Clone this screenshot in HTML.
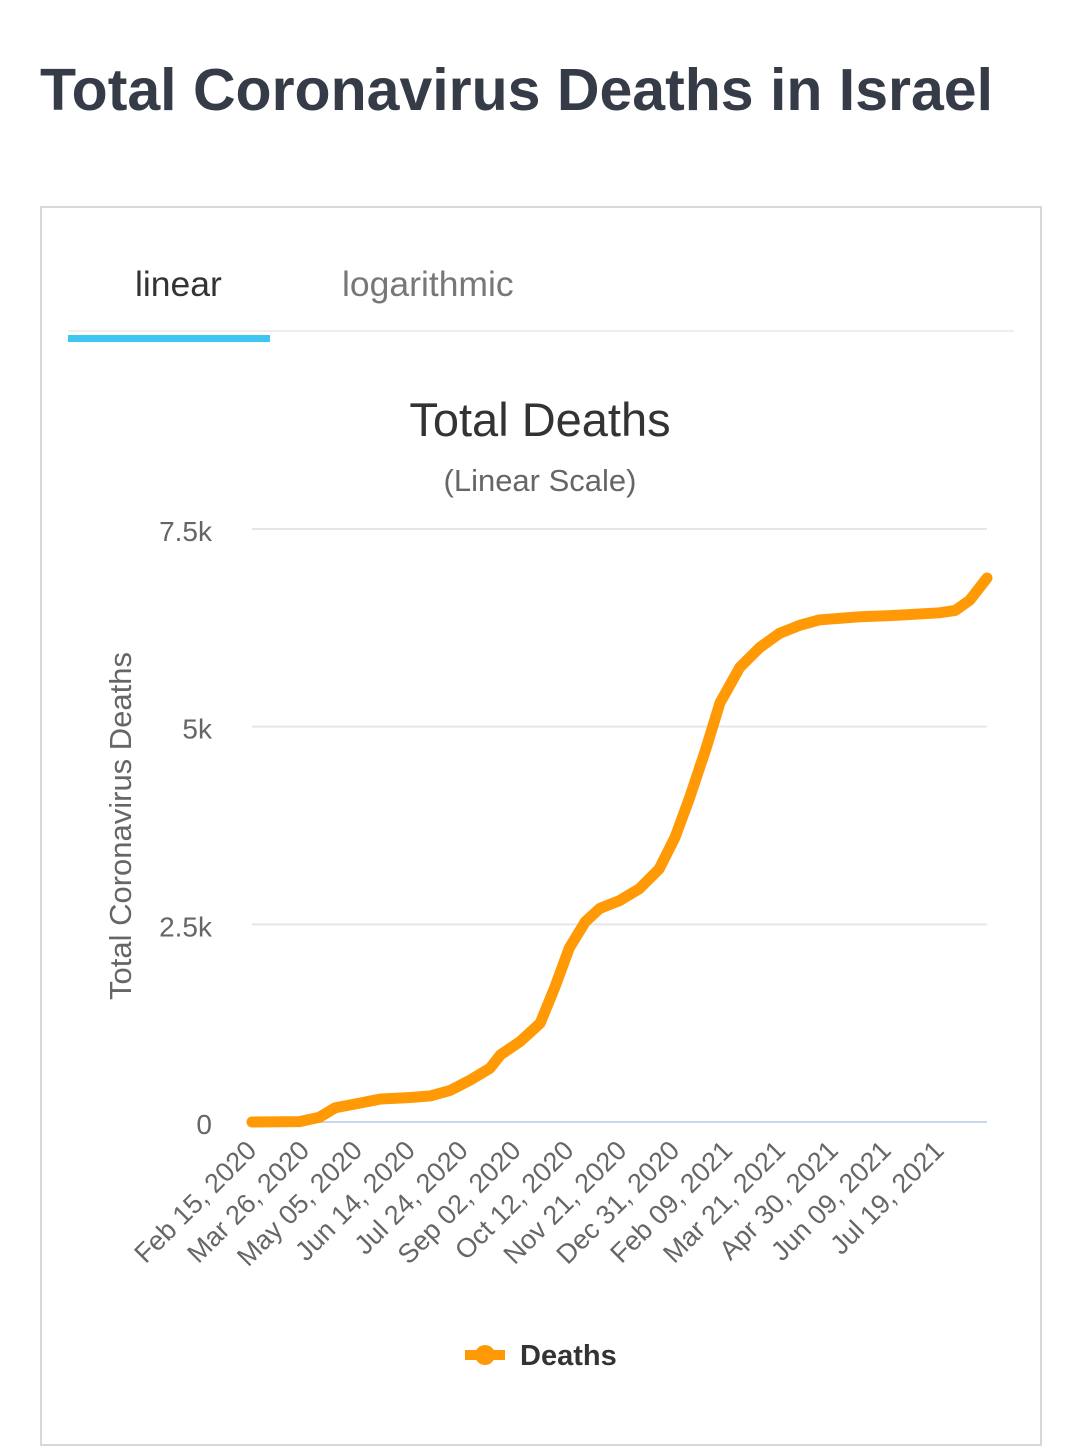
<!DOCTYPE html>
<html><head><meta charset="utf-8"><style>
body{margin:0;width:1080px;height:1429px;background:#fff;font-family:"Liberation Sans",sans-serif;overflow:hidden;position:relative}
#title{position:absolute;left:40px;top:56px;font-size:59px;font-weight:bold;color:#363b48;margin:0;white-space:nowrap}
#card{position:absolute;left:40px;top:206px;width:1002px;height:1240px;border:2px solid #d8d8d8;box-sizing:border-box}
.tab{position:absolute;top:264px;font-size:35.5px}
</style></head><body>
<h1 id="title">Total Coronavirus Deaths in Israel</h1>
<div id="card"></div>
<div class="tab" style="left:135px;color:#333">linear</div>
<div class="tab" style="left:342px;color:#777">logarithmic</div>
<div style="position:absolute;left:68px;top:330px;width:946px;height:2px;background:#eee"></div>
<div style="position:absolute;left:68px;top:335px;width:202px;height:7px;background:#3ec6f3"></div>
<svg id="chart" width="1080" height="1429" style="position:absolute;left:0;top:0"></svg>
<script>
const tickValues=[0,2500,5000,7500];
const tickLabels=["0","2.5k","5k","7.5k"];
const xLabels=["Feb 15, 2020","Mar 26, 2020","May 05, 2020","Jun 14, 2020","Jul 24, 2020","Sep 02, 2020","Oct 12, 2020","Nov 21, 2020","Dec 31, 2020","Feb 09, 2021","Mar 21, 2021","Apr 30, 2021","Jun 09, 2021","Jul 19, 2021"];
const days=[0,36,51,63,82,97,120,135,150,165,180,188,203,218,229,240,252,263,278,293,308,320,331,343,354,369,384,399,414,429,460,490,520,532,543,556];
const deaths=[0,5,60,180,240,290,310,330,400,530,680,850,1020,1250,1700,2200,2530,2700,2800,2950,3200,3600,4100,4700,5300,5750,6000,6180,6280,6350,6390,6410,6440,6470,6600,6880];
const NS="http://www.w3.org/2000/svg";
const svg=document.getElementById('chart');
const x0=252,x1=987,totalDays=556,yBase=1122,yTop=529,vMax=7500;
const X=d=>x0+(x1-x0)*d/totalDays;
const Y=v=>yBase-(yBase-yTop)*v/vMax;
function mk(t,a){const e=document.createElementNS(NS,t);for(const k in a)e.setAttribute(k,a[k]);svg.appendChild(e);return e;}
let t=mk('text',{x:540,y:436,'text-anchor':'middle','font-size':47,fill:'#333'});t.textContent='Total Deaths';

t=mk('text',{x:540,y:491,'text-anchor':'middle','font-size':31,fill:'#666'});t.textContent='(Linear Scale)';

t=mk('text',{x:0,y:0,'text-anchor':'middle','font-size':31,fill:'#666',transform:'translate(131,826) rotate(-90)'});t.textContent='Total Coronavirus Deaths';

tickValues.forEach((v,i)=>{
 const g=mk('line',{x1:x0,x2:x1,y1:Y(v),y2:Y(v),stroke:i===0?'#ccd6eb':'#e6e6e6','stroke-width':2});
 
 const l=mk('text',{x:212,y:Y(v)+12,'text-anchor':'end','font-size':28,fill:'#666'});l.textContent=tickLabels[i];
 
});
xLabels.forEach((s,i)=>{
 const x=X(i*40)+6;
 const l=mk('text',{x:0,y:0,'text-anchor':'end','font-size':27,fill:'#666',transform:`translate(${x},1152) rotate(-45)`});l.textContent=s;
 
});
const p=mk('path',{d:days.map((d,i)=>(i?'L':'M')+X(d)+','+Y(deaths[i])).join(' '),fill:'none',stroke:'#ff9a06','stroke-width':11,'stroke-linejoin':'round','stroke-linecap':'round'});

const lg=mk('line',{x1:465,x2:505,y1:1355,y2:1355,stroke:'#ff9a06','stroke-width':10});

const lc=mk('circle',{cx:485,cy:1355,r:10,fill:'#ff9a06'});

t=mk('text',{x:520,y:1365,'font-size':29,'font-weight':'bold',fill:'#333'});t.textContent='Deaths';

</script>
</body></html>
